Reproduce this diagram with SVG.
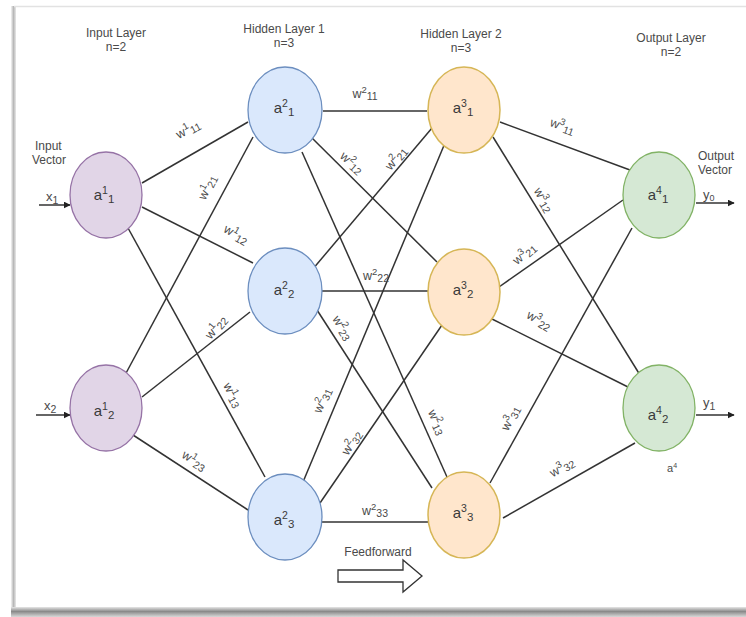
<svg xmlns="http://www.w3.org/2000/svg" width="746" height="617" viewBox="0 0 746 617">
<defs>
<linearGradient id="gl" x1="0" y1="0" x2="1" y2="0">
<stop offset="0" stop-color="#f4f4f4"/><stop offset="0.5" stop-color="#b8b8b8"/><stop offset="1" stop-color="#e8e8e8"/>
</linearGradient>
<linearGradient id="gb" x1="0" y1="0" x2="0" y2="1">
<stop offset="0" stop-color="#e6e6e6"/><stop offset="0.45" stop-color="#8a8a8a"/><stop offset="1" stop-color="#d8d8d8"/>
</linearGradient>
<marker id="arr" viewBox="0 0 10 10" refX="9" refY="5" markerWidth="7" markerHeight="7" orient="auto" markerUnits="userSpaceOnUse">
<path d="M0,0 L10,5 L0,10 z" fill="#222"/>
</marker>
</defs>
<style>
.edge{stroke:#333;stroke-width:1.5;fill:none}
.t{font-family:"Liberation Sans Narrow","Liberation Sans",Arial,sans-serif;fill:#4a4a4a}
.h{font-size:12px}
.w{font-size:12.5px}
.n{font-size:15px;fill:#3a3a3a}
.p{fill:#e1d5e7;stroke:#9673a6;stroke-width:1.3}
.b{fill:#dae8fc;stroke:#6c8ebf;stroke-width:1.3}
.o{fill:#ffe6cc;stroke:#d6b656;stroke-width:1.5}
.g{fill:#d5e8d4;stroke:#82b366;stroke-width:1.3}
</style>
<rect x="0" y="0" width="746" height="617" fill="#fff"/>
<rect x="11" y="6" width="5" height="604" fill="url(#gl)"/>
<line x1="14" y1="6.5" x2="746" y2="6.5" stroke="#e2e2e2" stroke-width="1.5"/>
<rect x="11" y="607" width="735" height="10" fill="url(#gb)"/>

<g id="headers" class="t h" text-anchor="middle">
<text x="116" y="37">Input Layer</text><text x="116" y="51">n=2</text>
<text x="284" y="33">Hidden Layer 1</text><text x="284" y="47">n=3</text>
<text x="461" y="38">Hidden Layer 2</text><text x="461" y="52">n=3</text>
<text x="671" y="42">Output Layer</text><text x="671" y="56">n=2</text>
</g>

<g id="connectors">
<line class="edge" x1="142" y1="183" x2="248" y2="122"/>
<line class="edge" x1="142" y1="207" x2="253" y2="263"/>
<line class="edge" x1="128" y1="228" x2="265" y2="477"/>
<line class="edge" x1="125" y1="375" x2="253" y2="137"/>
<line class="edge" x1="142" y1="397" x2="250" y2="312"/>
<line class="edge" x1="133" y1="435" x2="248" y2="510"/>

<line class="edge" x1="323" y1="111" x2="427" y2="111"/>
<line class="edge" x1="312" y1="138" x2="437" y2="262"/>
<line class="edge" x1="302" y1="152" x2="447" y2="477"/>
<line class="edge" x1="312" y1="270" x2="432" y2="128"/>
<line class="edge" x1="321" y1="291" x2="428" y2="291"/>
<line class="edge" x1="317" y1="310" x2="432" y2="488"/>
<line class="edge" x1="303" y1="482" x2="445" y2="143"/>
<line class="edge" x1="320" y1="503" x2="442" y2="325"/>
<line class="edge" x1="322" y1="522" x2="428" y2="522"/>

<line class="edge" x1="500" y1="122" x2="630" y2="170"/>
<line class="edge" x1="493" y1="137" x2="640" y2="375"/>
<line class="edge" x1="499" y1="287" x2="623" y2="200"/>
<line class="edge" x1="492" y1="319" x2="628" y2="387"/>
<line class="edge" x1="490" y1="483" x2="632" y2="228"/>
<line class="edge" x1="503" y1="518" x2="635" y2="443"/>

<line class="edge" x1="39" y1="205" x2="70" y2="205" marker-end="url(#arr)"/>
<line class="edge" x1="36" y1="415" x2="70" y2="415" marker-end="url(#arr)"/>
<line class="edge" x1="696" y1="203" x2="734" y2="203" marker-end="url(#arr)"/>
<line class="edge" x1="696" y1="415" x2="734" y2="415" marker-end="url(#arr)"/>
</g>

<g id="weights" class="t w" text-anchor="middle">
<text transform="translate(190,133) rotate(-28)">w<tspan dy="-5" font-size="9.5">1</tspan><tspan dy="7" font-size="10.5">11</tspan></text>
<text transform="translate(211,189) rotate(-64)">w<tspan dy="-5" font-size="9.5">1</tspan><tspan dy="7" font-size="10.5">21</tspan></text>
<text transform="translate(234,238) rotate(30)">w<tspan dy="-5" font-size="9.5">1</tspan><tspan dy="7" font-size="10.5">12</tspan></text>
<text transform="translate(219,330) rotate(-50)">w<tspan dy="-5" font-size="9.5">1</tspan><tspan dy="7" font-size="10.5">22</tspan></text>
<text transform="translate(229,397) rotate(62)">w<tspan dy="-5" font-size="9.5">1</tspan><tspan dy="7" font-size="10.5">13</tspan></text>
<text transform="translate(192,464) rotate(32)">w<tspan dy="-5" font-size="9.5">1</tspan><tspan dy="7" font-size="10.5">23</tspan></text>

<text x="365" y="98">w<tspan dy="-5" font-size="9.5">2</tspan><tspan dy="7" font-size="10.5">11</tspan></text>
<text transform="translate(349,166) rotate(42)">w<tspan dy="-5" font-size="9.5">2</tspan><tspan dy="7" font-size="10.5">12</tspan></text>
<text transform="translate(399,161) rotate(-50)">w<tspan dy="-5" font-size="9.5">2</tspan><tspan dy="7" font-size="10.5">21</tspan></text>
<text x="376" y="280">w<tspan dy="-5" font-size="9.5">2</tspan><tspan dy="7" font-size="10.5">22</tspan></text>
<text transform="translate(339,330) rotate(58)">w<tspan dy="-5" font-size="9.5">2</tspan><tspan dy="7" font-size="10.5">23</tspan></text>
<text transform="translate(326,402) rotate(-66)">w<tspan dy="-5" font-size="9.5">2</tspan><tspan dy="7" font-size="10.5">31</tspan></text>
<text transform="translate(355,445) rotate(-57)">w<tspan dy="-5" font-size="9.5">2</tspan><tspan dy="7" font-size="10.5">32</tspan></text>
<text transform="translate(433,424) rotate(66)">w<tspan dy="-5" font-size="9.5">2</tspan><tspan dy="7" font-size="10.5">13</tspan></text>
<text x="375" y="515">w<tspan dy="-5" font-size="9.5">2</tspan><tspan dy="7" font-size="10.5">33</tspan></text>

<text transform="translate(561,130) rotate(20)">w<tspan dy="-5" font-size="9.5">3</tspan><tspan dy="7" font-size="10.5">11</tspan></text>
<text transform="translate(540,202) rotate(60)">w<tspan dy="-5" font-size="9.5">3</tspan><tspan dy="7" font-size="10.5">12</tspan></text>
<text transform="translate(527,257) rotate(-40)">w<tspan dy="-5" font-size="9.5">3</tspan><tspan dy="7" font-size="10.5">21</tspan></text>
<text transform="translate(537,324) rotate(30)">w<tspan dy="-5" font-size="9.5">3</tspan><tspan dy="7" font-size="10.5">22</tspan></text>
<text transform="translate(514,420) rotate(-62)">w<tspan dy="-5" font-size="9.5">3</tspan><tspan dy="7" font-size="10.5">31</tspan></text>
<text transform="translate(564,471) rotate(-30)">w<tspan dy="-5" font-size="9.5">3</tspan><tspan dy="7" font-size="10.5">32</tspan></text>
</g>

<g id="io-labels" class="t h">
<text x="35" y="150">Input</text><text x="32" y="164">Vector</text>
<text x="46" y="201" font-size="13">x<tspan dy="3" font-size="10.5">1</tspan></text>
<text x="44" y="410" font-size="13">x<tspan dy="3" font-size="10.5">2</tspan></text>
<text x="698" y="160">Output</text><text x="698" y="174">Vector</text>
<text x="703" y="199" font-size="13">y<tspan dy="2" font-size="9">0</tspan></text>
<text x="703" y="407" font-size="13">y<tspan dy="3" font-size="10.5">1</tspan></text>
<text x="667" y="472" font-size="11">a<tspan dy="-4" font-size="7">4</tspan></text>
</g>

<g id="a1_1"><ellipse class="p" cx="106" cy="195" rx="36" ry="43"/><text class="t n" x="104" y="200" text-anchor="middle">a<tspan dy="-6" font-size="10.5">1</tspan><tspan dy="9" font-size="11.5">1</tspan></text></g>
<g id="a1_2"><ellipse class="p" cx="106" cy="408" rx="36" ry="43"/><text class="t n" x="104" y="416" text-anchor="middle">a<tspan dy="-6" font-size="10.5">1</tspan><tspan dy="9" font-size="11.5">2</tspan></text></g>
<g id="a2_1"><ellipse class="b" cx="285" cy="110" rx="37" ry="43"/><text class="t n" x="284" y="113" text-anchor="middle">a<tspan dy="-6" font-size="10.5">2</tspan><tspan dy="9" font-size="11.5">1</tspan></text></g>
<g id="a2_2"><ellipse class="b" cx="285" cy="291" rx="37" ry="43"/><text class="t n" x="284" y="295" text-anchor="middle">a<tspan dy="-6" font-size="10.5">2</tspan><tspan dy="9" font-size="11.5">2</tspan></text></g>
<g id="a2_3"><ellipse class="b" cx="285" cy="517" rx="37" ry="43"/><text class="t n" x="284" y="525" text-anchor="middle">a<tspan dy="-6" font-size="10.5">2</tspan><tspan dy="9" font-size="11.5">3</tspan></text></g>
<g id="a3_1"><ellipse class="o" cx="464" cy="110" rx="36" ry="43"/><text class="t n" x="463" y="113" text-anchor="middle">a<tspan dy="-6" font-size="10.5">3</tspan><tspan dy="9" font-size="11.5">1</tspan></text></g>
<g id="a3_2"><ellipse class="o" cx="464" cy="292" rx="36" ry="43"/><text class="t n" x="463" y="295" text-anchor="middle">a<tspan dy="-6" font-size="10.5">3</tspan><tspan dy="9" font-size="11.5">2</tspan></text></g>
<g id="a3_3"><ellipse class="o" cx="464" cy="515" rx="36" ry="43"/><text class="t n" x="463" y="518" text-anchor="middle">a<tspan dy="-6" font-size="10.5">3</tspan><tspan dy="9" font-size="11.5">3</tspan></text></g>
<g id="a4_1"><ellipse class="g" cx="659" cy="195" rx="36" ry="43"/><text class="t n" x="658" y="200" text-anchor="middle">a<tspan dy="-6" font-size="10.5">4</tspan><tspan dy="9" font-size="11.5">1</tspan></text></g>
<g id="a4_2"><ellipse class="g" cx="659" cy="408" rx="36" ry="43"/><text class="t n" x="658" y="420" text-anchor="middle">a<tspan dy="-6" font-size="10.5">4</tspan><tspan dy="9" font-size="11.5">2</tspan></text></g>

<g id="feedforward">
<text class="t h" x="378" y="556" text-anchor="middle" font-size="12.5">Feedforward</text>
<polygon points="338,570 403,570 403,560 422,576 403,592 403,582 338,582" fill="#fff" stroke="#333" stroke-width="1.3"/>
</g>
</svg>
